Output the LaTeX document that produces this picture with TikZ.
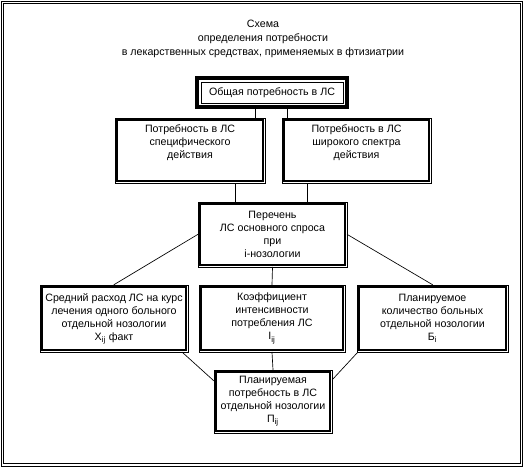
\documentclass[tikz,border=0pt]{standalone}
\usepackage{fontspec}
\setmainfont{Liberation Sans}
\usetikzlibrary{calc,positioning}

\begin{document}
\begin{tikzpicture}[x=0.75pt,y=-0.75pt,line cap=rect,
    font=\fontsize{8pt}{9.75pt}\selectfont,
    blk/.style={draw,line width=0.5pt,align=center,inner sep=0pt,
        path picture={\draw[line width=1.5pt]
            ([shift={(1.8pt,1.8pt)}]path picture bounding box.south west) rectangle
            ([shift={(-1.8pt,-1.8pt)}]path picture bounding box.north east);}},
    headblk/.style={draw,line width=2.4pt,align=center,inner sep=0pt,
        path picture={\draw[line width=0.6pt]
            ([shift={(3pt,3pt)}]path picture bounding box.south west) rectangle
            ([shift={(-3pt,-3pt)}]path picture bounding box.north east);}},
    link/.style={line width=0.5pt}]
    \useasboundingbox (0,0) rectangle (526,470);

    % outer frame
    \draw[line width=1.1pt] (1.5,1.5) rectangle (522.7,466.7);
    \draw[line width=0.6pt] (3.6,3.6) rectangle (520,463.8);

    \node[align=center,font=\fontsize{8pt}{10.5pt}\selectfont] (title) at (263,39)
        {Схема\\определения потребности\\в лекарственных средствах, применяемых в фтизиатрии};

    \node[headblk,minimum width=112.5pt,minimum height=21.75pt] (total) at (272,92.5) {Общая потребность в ЛС};

    \node[blk,minimum width=112.5pt,minimum height=48.75pt] (lspec) at (190,150.5)
        {Потребность в ЛС\\специфического\\действия\\\strut};
    \node[blk,minimum width=111.75pt,minimum height=48.75pt] (rspec) at (356.5,150.5)
        {Потребность в ЛС\\широкого спектра\\действия\\\strut};

    \node[blk,minimum width=111.75pt,minimum height=48.75pt] (list) at (272.5,234.5)
        {Перечень\\ЛС основного спроса\\при\\i-нозологии};

    \node[blk,minimum width=111pt,minimum height=50.25pt] (avg) at (114,318.5)
        {Средний расход ЛС на курс\\лечения одного больного\\отдельной нозологии\\X\textsubscript{ij} факт};
    \node[blk,minimum width=109.5pt,minimum height=50.25pt] (coef) at (272,318.5)
        {Коэффициент\\интенсивности\\потребления ЛС\\I\textsubscript{ij}};
    \node[blk,minimum width=113.25pt,minimum height=50.25pt] (pat) at (432.5,318.5)
        {Планируемое\\количество больных\\отдельной нозологии\\Б\textsubscript{i}};

    \node[blk,minimum width=88.5pt,minimum height=47.25pt] (plan) at (273,401.5)
        {Планируемая\\потребность в ЛС\\отдельной нозологии\\П\textsubscript{ij}};

    % connectors
    \draw[link] ($(lspec.north east)+(-10,0)$) coordinate (a1) -- (a1 |- total.south);
    \draw[link] ($(rspec.north west)+(6,0)$) coordinate (a2) -- (a2 |- total.south);
    \draw[link] ($(lspec.south)+(45,0)$) coordinate (b1) -- (b1 |- list.north);
    \draw[link] ($(rspec.south)+(-49.5,0)$) coordinate (b2) -- (b2 |- list.north);
    \draw[link] (list.west) -- (avg.north);
    \draw[link] (list.east) -- (pat.north);
    \draw[link] (list.south) -- (coef.north);
    \draw[link] (coef.south) -- (plan.north);
    \draw[link] ($(avg.south east)+(-6,0)$) -- ($(plan.north west)+(0,11)$);
    \draw[link] ($(pat.south west)+(1,0)$) -- ($(plan.north east)+(0,10)$);
\end{tikzpicture}
\end{document}
